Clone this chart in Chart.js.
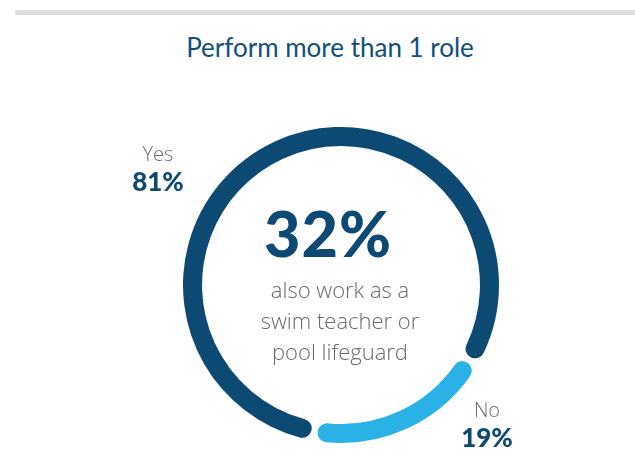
<!DOCTYPE html>
<html>
<head>
<meta charset="utf-8">
<script src="https://cdn.jsdelivr.net/npm/chart.js@4"></script>
<style>
  html, body { margin: 0; padding: 0; background: #fff; }
  #page { position: relative; width: 635px; height: 472px; overflow: hidden; background: #fff; }
  #rule { position: absolute; left: 15px; top: 10px; width: 640px; height: 5px; border-radius: 3px; background: #dcdddf; }
  #title { position: absolute; left: 0; width: 660px; top: 31px; text-align: center;
           font-family: Lato, "Open Sans", sans-serif; font-size: 26px; color: #134f78; }
  #chartBox { position: absolute; left: 176px; top: 120px; width: 330px; height: 330px; }
  .lbl { position: absolute; text-align: center; width: 80px; }
  .name { font-family: "Open Sans", sans-serif; font-weight: 300; font-size: 20px; color: #6b6b6b; line-height: 24px; }
  .pct { font-family: Lato, sans-serif; font-weight: 900; font-size: 26px; color: #0d4a73; line-height: 30px; }
  #center { position: absolute; left: 228px; width: 200px; top: 198px; text-align: center; }
  #big { font-family: Lato, sans-serif; font-weight: 900; font-size: 63px; color: #0d4a73; line-height: 70px; letter-spacing: 1px; }
  #sub { font-family: "Open Sans", sans-serif; font-weight: 300; font-size: 22px; color: #6a6a6a; line-height: 31px;
         margin-top: 6px; position: relative; left: 12px; }
</style>
</head>
<body>
<div id="page">
  <div id="rule"></div>
  <div id="title">Perform more than 1 role</div>
  <div id="chartBox"><canvas id="c" width="330" height="330"></canvas></div>
  <div class="lbl" id="lblYes" style="left:118px; top:142px;">
    <div class="name" id="yesName"></div><div class="pct" id="yesPct"></div>
  </div>
  <div class="lbl" id="lblNo" style="left:447px; top:398px;">
    <div class="name" id="noName"></div><div class="pct" id="noPct"></div>
  </div>
  <div id="center">
    <div id="big"></div>
    <div id="sub">also work as a<br>swim teacher or<br>pool lifeguard</div>
  </div>
</div>
<script>
// Share of respondents performing more than one role
const categories = ['Yes', 'No'];
const shares = [81, 19];
const alsoTeacherOrLifeguard = 32;
const sliceColors = ['#0d4a73', '#2ab2e6'];

document.getElementById('yesName').textContent = categories[0];
document.getElementById('yesPct').textContent = shares[0] + '%';
document.getElementById('noName').textContent = categories[1];
document.getElementById('noPct').textContent = shares[1] + '%';
document.getElementById('big').textContent = alsoTeacherOrLifeguard + '%';

new Chart(document.getElementById('c'), {
  type: 'doughnut',
  data: {
    labels: categories,
    datasets: [{
      data: shares,
      backgroundColor: sliceColors,
      borderWidth: 0,
      borderRadius: 10,
      spacing: 4
    }]
  },
  options: {
    responsive: false,
    animation: false,
    rotation: 189.5,
    radius: 156,
    cutout: '87.8%',
    layout: { padding: 0 },
    plugins: { legend: { display: false }, tooltip: { enabled: false } }
  }
});
</script>
</body>
</html>
